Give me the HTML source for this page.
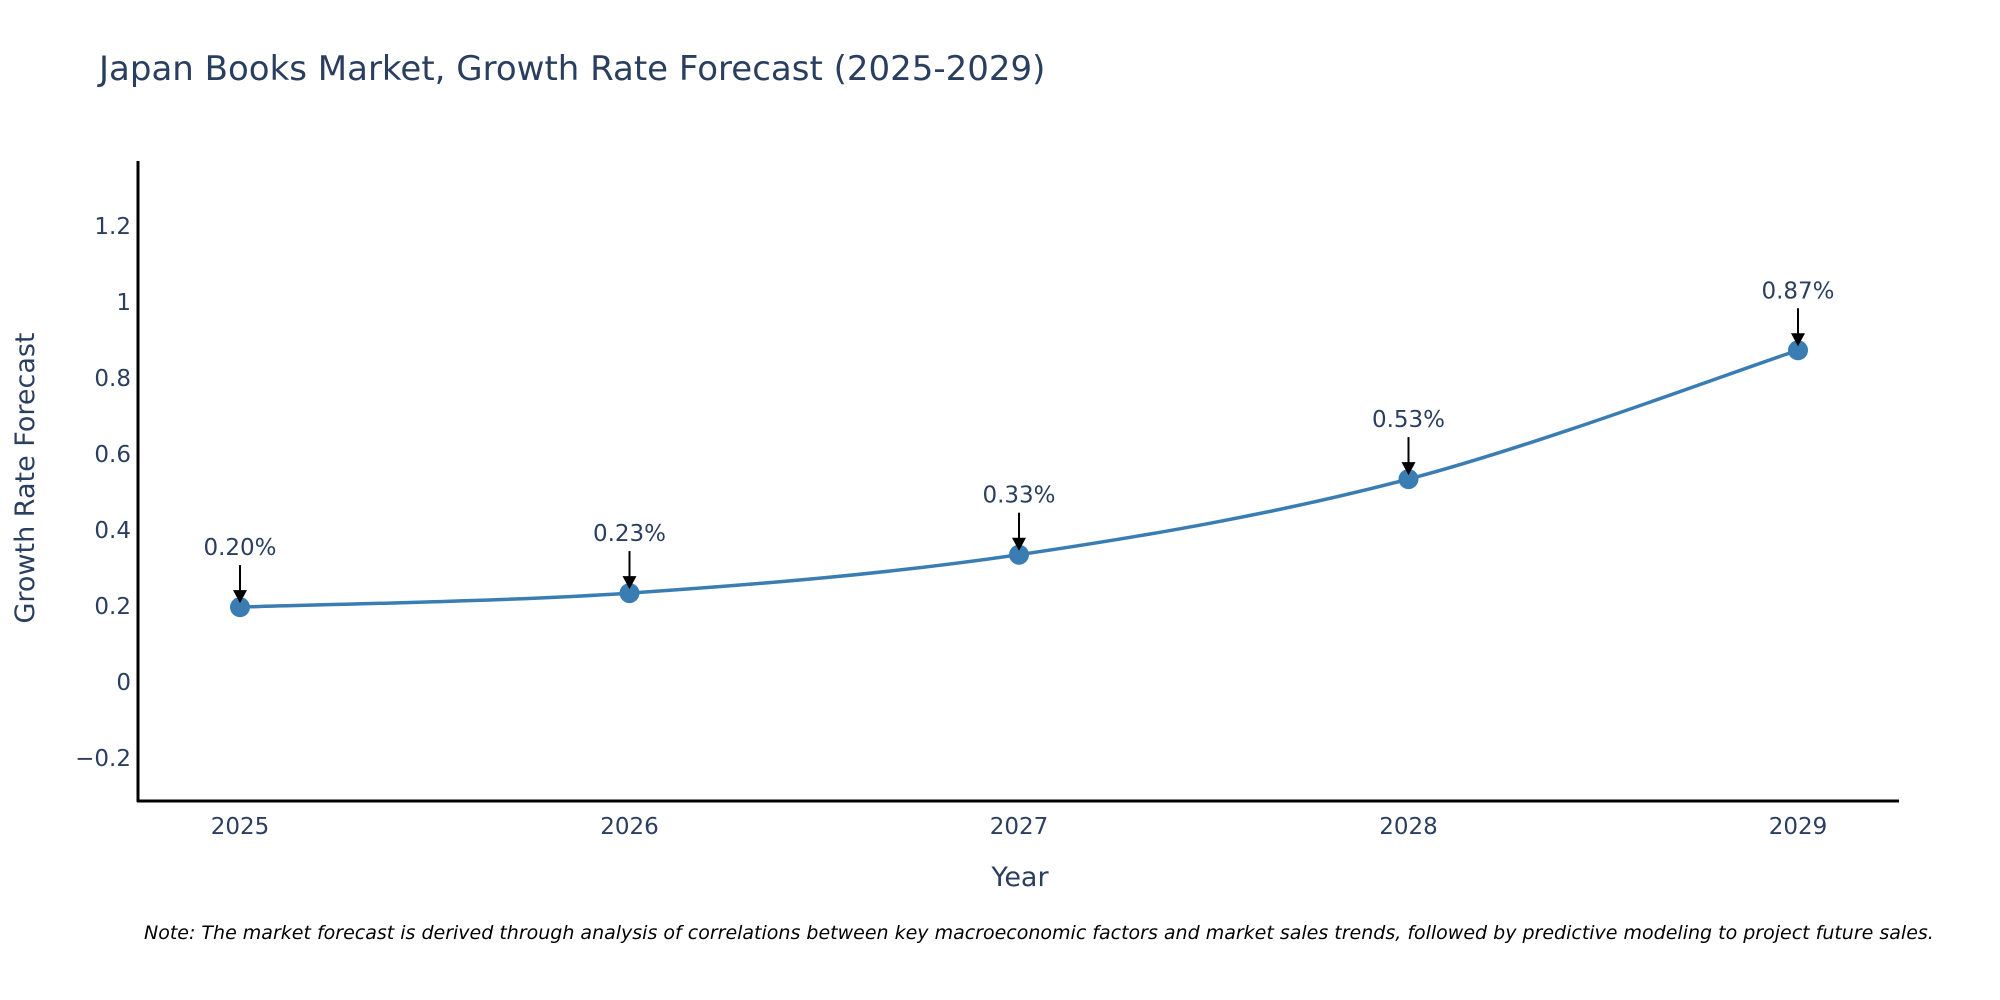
<!DOCTYPE html>
<html><head><meta charset="utf-8"><style>
html,body{margin:0;padding:0;background:#fff;}
svg{display:block;font-family:"DejaVu Sans","Liberation Sans",sans-serif;}
</style></head><body>
<svg id="chart" width="2000" height="1000" viewBox="0 0 2000 1000">
<text x="99" y="80" font-size="34" fill="#2a3f5f">Japan Books Market, Growth Rate Forecast (2025-2029)</text>
<g id="yticks"></g>
<g id="xticks"></g>
<line x1="138" y1="161" x2="138" y2="802" stroke="#000" stroke-width="3"/>
<line x1="137" y1="801" x2="1899" y2="801" stroke="#000" stroke-width="3"/>
<path id="line" fill="none" stroke="#3a7db3" stroke-width="3.5"/>
<g id="points"></g>
<g id="annos"></g>
<text transform="translate(34,478) rotate(-90)" text-anchor="middle" font-size="27" fill="#2a3f5f">Growth Rate Forecast</text>
<text x="1020" y="886" text-anchor="middle" font-size="27" fill="#2a3f5f">Year</text>
<text x="144" y="939" font-size="19" font-style="italic" fill="#000">Note: The market forecast is derived through analysis of correlations between key macroeconomic factors and market sales trends, followed by predictive modeling to project future sales.</text>
</svg>
<script>
const years = ['2025','2026','2027','2028','2029'];
const values = [0.197, 0.234, 0.335, 0.534, 0.873];
const valueLabels = ['0.20%','0.23%','0.33%','0.53%','0.87%'];
const yTickValues = [-0.2, 0, 0.2, 0.4, 0.6, 0.8, 1, 1.2];
const yTickLabels = ['\u22120.2','0','0.2','0.4','0.6','0.8','1','1.2'];
const NS='http://www.w3.org/2000/svg';
function xs(i){return 240 + i*389.5;}
function ys(v){return 682 - v*380;}
function mk(t,a,p){const e=document.createElementNS(NS,t);for(const k in a)e.setAttribute(k,a[k]);p.appendChild(e);return e;}
const yt=document.getElementById('yticks');
yTickValues.forEach((v,i)=>{
  const t=mk('text',{x:131,y:ys(v)+8,'text-anchor':'end','font-size':23,fill:'#2a3f5f'},yt);
  
  
  t.textContent=yTickLabels[i];
});
const xt=document.getElementById('xticks');
years.forEach((y,i)=>{
  const t=mk('text',{x:xs(i),y:834,'text-anchor':'middle','font-size':23,fill:'#2a3f5f'},xt);
  
  
  t.textContent=y;
});
const P=values.map((v,i)=>[xs(i),ys(v)]);
let d='M'+P[0][0]+','+P[0][1];
const s=0.5/3*2;
for(let i=0;i<P.length-1;i++){
  const p0=P[Math.max(i-1,0)],p1=P[i],p2=P[i+1],p3=P[Math.min(i+2,P.length-1)];
  const c1=[p1[0]+(p2[0]-p0[0])*s/2,p1[1]+(p2[1]-p0[1])*s/2];
  const c2=[p2[0]-(p3[0]-p1[0])*s/2,p2[1]-(p3[1]-p1[1])*s/2];
  d+=' C'+c1+' '+c2+' '+p2;
}
document.getElementById('line').setAttribute('d',d);
const pg=document.getElementById('points'),ag=document.getElementById('annos');
values.forEach((v,i)=>{
  const x=xs(i),y=ys(v);
  const c=mk('circle',{cx:x,cy:y,r:10,fill:'#3a7db3'},pg);
  
  
  const l=mk('line',{x1:x,y1:y-42,x2:x,y2:y-16,stroke:'#000','stroke-width':2},ag);
  
  
  const a=mk('path',{d:`M${x-7},${y-17} L${x+7},${y-17} L${x},${y-4} Z`,fill:'#000'},ag);
  
  
  const t=mk('text',{x:x,y:y-52,'text-anchor':'middle','font-size':23,fill:'#2a3f5f'},ag);
  
  
  t.textContent=valueLabels[i];
});
</script>
</body></html>
